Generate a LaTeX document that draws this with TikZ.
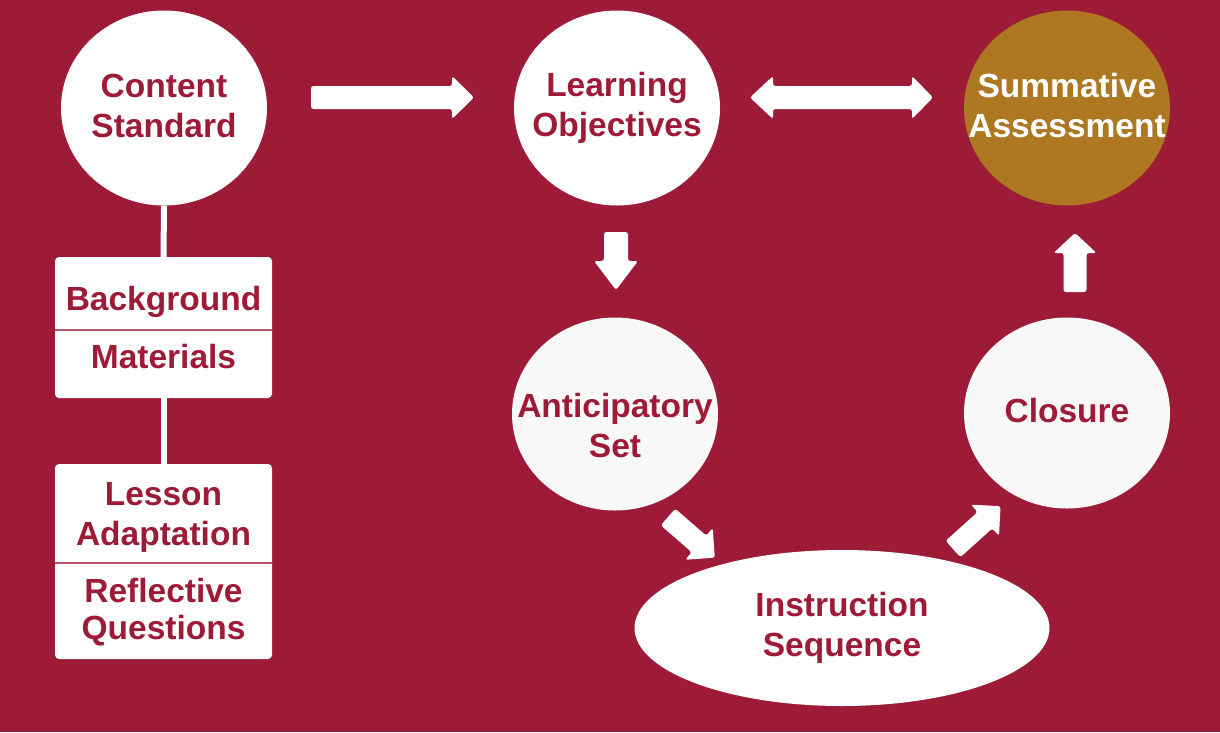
\documentclass[tikz,border=0pt]{standalone}
\usepackage{fontspec}
\setmainfont{Liberation Sans}
\usetikzlibrary{shapes.geometric}
\definecolor{crim}{HTML}{9D1B36}
\definecolor{gold}{HTML}{AE7722}
\definecolor{offw}{HTML}{F8F8F8}
\newcommand\blkarrow[5]{%
\begin{scope}[shift={#1},rotate=#2]
\fill[white, rounded corners=2.5pt] (0,-#5) -- ({#3-#4},-#5) -- ({#3-#4},{-#5-10}) -- (#3,0) -- ({#3-#4},{#5+10}) -- ({#3-#4},#5) -- (0,#5) -- cycle;
\end{scope}}
\tikzset{
  lbl/.style={font=\fontsize{33.5}{40}\selectfont\bfseries, text=crim, align=center, inner sep=0pt},
  circ/.style={ellipse, fill=white, inner sep=0pt, minimum width=206, minimum height=195},
  box/.style={rectangle, fill=white, rounded corners=4pt, minimum width=217, inner sep=0pt},
  link/.style={white, line width=6pt}
}
\begin{document}
\begin{tikzpicture}[x=1pt,y=-1pt]
\fill[crim] (0,0) rectangle (1220,732);
\useasboundingbox (0,0) rectangle (1220,732);
% circles
\node[circ] (cs) at (164,108) {};
\node[circ] (lo) at (617,108) {};
\node[circ, fill=gold] (sa) at (1067,108) {};
\node[circ, fill=offw, minimum height=193] (as) at (615,414) {};
\node[circ, fill=offw, minimum height=191] (cl) at (1067,413) {};
\node[ellipse, fill=white, minimum width=415, minimum height=156, inner sep=0pt] (is) at (842,628) {};
\node[lbl] (cst) at (164,106) {Content\\Standard};
\node[lbl] (lot) at (617,108) {Learning\\Objectives};
\node[lbl, text=white] (sat) at (1067,106) {Summative\\Assessment};
\node[lbl] (ast) at (615,426) {Anticipatory\\Set};
\node[lbl] (clt) at (1067,411) {Closure};
\node[lbl] (ist) at (842,628) {Instruction\\Sequence};
% boxes
\node[box, minimum height=141] (b1) at (163.5,327.5) {};
\node[box, minimum height=195] (b2) at (163.5,561.5) {};
\draw[crim!75!white, line width=1.5pt] (b1.west |- 0,330) -- (b1.east |- 0,330);
\draw[crim!75!white, line width=1.5pt] (b2.west |- 0,563) -- (b2.east |- 0,563);
\node[lbl] (t1) at (163.5,302) {Background};
\node[lbl] (t2) at (163.5,357) {Materials};
\node[lbl] (t3) at (163.5,517) {Lesson\\Adaptation};
\node[lbl, font=\fontsize{33.5}{37}\selectfont\bfseries] (t4) at (163.5,612) {Reflective\\Questions};
% connectors
\draw[link] (cs.south) -- (b1.north);
\draw[link] (b1.south) -- (b2.north);
% block arrows
\blkarrow{(311,97.5)}{0}{163}{22}{11.5}
\fill[white, rounded corners=2.5pt] (750,97.5) -- (773,76) -- (773,86) -- (912,86) -- (912,76) -- (933,97.5) -- (912,119) -- (912,109) -- (773,109) -- (773,119) -- cycle;
\blkarrow{(616,232)}{-90}{58}{29}{12}
\blkarrow{(1075,292)}{90}{59}{20}{11.5}
\blkarrow{(668,517)}{-41}{62}{21}{11}
\blkarrow{(953,549)}{42}{64}{21}{11}
\end{tikzpicture}
\end{document}
